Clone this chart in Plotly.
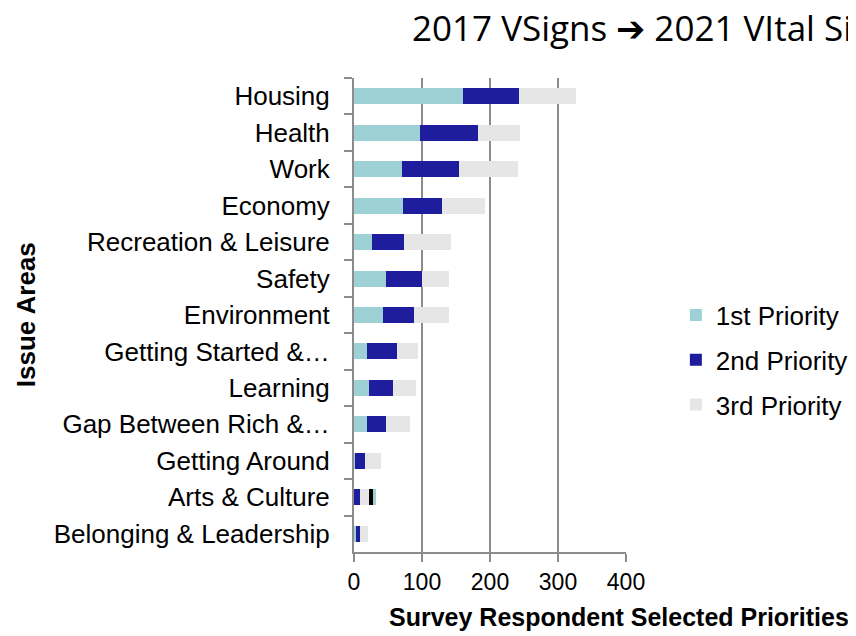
import plotly.graph_objects as go

categories = ["Housing", "Health", "Work", "Economy", "Recreation & Leisure", "Safety",
              "Environment", "Getting Started &…", "Learning", "Gap Between Rich &…",
              "Getting Around", "Arts & Culture", "Belonging & Leadership"]
first_priority = [161, 97, 70, 72, 26, 47, 43, 19, 22, 19, 2, 0, 3]
second_priority = [82, 86, 85, 58, 47, 53, 45, 44, 35, 28, 14, 9, 6]
third_priority = [84, 61, 86, 62, 69, 39, 52, 31, 34, 36, 24, 13, 11]
extra_dark = [0, 0, 0, 0, 0, 0, 0, 0, 0, 0, 0, 6, 0]
extra_teal = [0, 0, 0, 0, 0, 0, 0, 0, 0, 0, 0, 4, 0]
x_ticks = [0, 100, 200, 300, 400]

TEAL = "#9dd1d5"
BLUE = "#1d1d9d"
GREY = "#e6e6e6"

fig = go.Figure()
fig.add_trace(go.Bar(y=categories, x=first_priority, orientation="h", name="1st Priority",
                     marker=dict(color=TEAL, line=dict(width=0)), legendgroup="a"))
fig.add_trace(go.Bar(y=categories, x=second_priority, orientation="h", name="2nd Priority",
                     marker=dict(color=BLUE, line=dict(width=0)), legendgroup="b"))
fig.add_trace(go.Bar(y=categories, x=third_priority, orientation="h", name="3rd Priority",
                     marker=dict(color=GREY, line=dict(width=0)), legendgroup="c"))
fig.add_trace(go.Bar(y=categories, x=extra_dark, orientation="h", name="",
                     marker=dict(color="#000000", line=dict(width=0)), showlegend=False))
fig.add_trace(go.Bar(y=categories, x=extra_teal, orientation="h", name="",
                     marker=dict(color=TEAL, line=dict(width=0)), showlegend=False))

fig.update_layout(
    width=856, height=636,
    margin=dict(l=346, r=237, t=70, b=92),
    paper_bgcolor="white", plot_bgcolor="white",
    barmode="stack", bargap=0.56,
    font=dict(family="Liberation Sans, Arial, sans-serif", color="#000000"),
    xaxis=dict(range=[0, 400], tickvals=x_ticks, ticktext=[str(v) for v in x_ticks],
               showgrid=True, gridcolor="#8c8c8c", gridwidth=2,
               showline=True, linecolor="#8c8c8c", linewidth=2,
               ticks="outside", ticklen=8, tickwidth=2, tickcolor="#8c8c8c",
               tickfont=dict(size=23), zeroline=False, fixedrange=True),
    yaxis=dict(categoryorder="array", categoryarray=categories, autorange="reversed",
               showline=True, linecolor="#8c8c8c", linewidth=2,
               ticks="outside", ticklen=8, tickwidth=2, tickcolor="#8c8c8c",
               tickson="boundaries", showgrid=False,
               tickfont=dict(size=26), ticklabelstandoff=17, fixedrange=True),
    legend=dict(x=1.179, y=0.405, xanchor="left", yanchor="middle",
                traceorder="grouped", tracegroupgap=8,
                font=dict(size=26), bgcolor="rgba(0,0,0,0)"),
    showlegend=True,
)

fig.add_annotation(text="2017 VSigns ➔ 2021 VItal Signs", xref="paper", yref="paper",
                   x=0.205, y=1.106, xanchor="left", yanchor="middle", showarrow=False,
                   font=dict(family="Open Sans, sans-serif", size=35, color="#000000"))
fig.add_annotation(text="<b>Survey Respondent Selected Priorities</b>", xref="paper", yref="paper",
                   x=0.974, y=-0.137, xanchor="center", yanchor="middle", showarrow=False,
                   font=dict(size=25, color="#000000"))
fig.add_annotation(text="<b>Issue Areas</b>", xref="paper", yref="paper",
                   x=-1.205, y=0.5, xanchor="center", yanchor="middle", showarrow=False,
                   textangle=-90, font=dict(size=26, color="#000000"))

fig.write_html("out.html")
